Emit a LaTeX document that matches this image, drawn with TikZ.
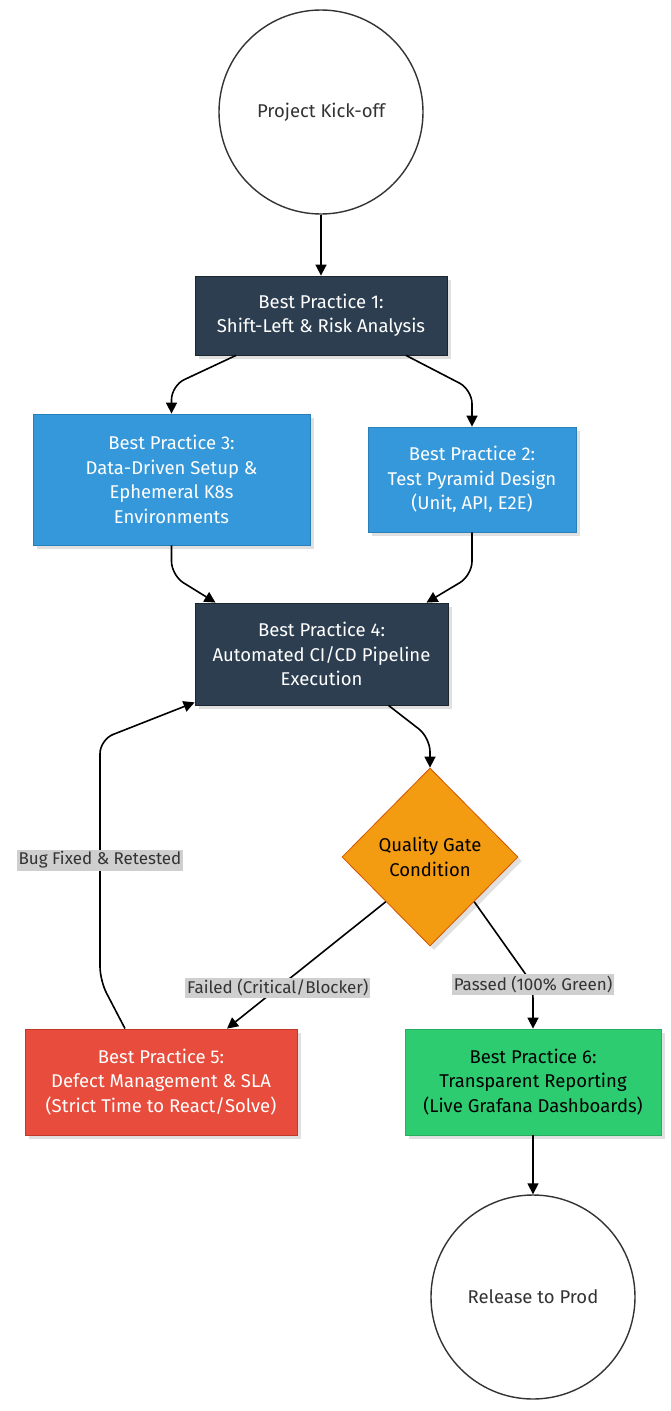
\documentclass[tikz,border=0pt]{standalone}
\usepackage{fontspec}
\setmainfont{Fira Sans}
\usepackage{tikz}
\usetikzlibrary{shapes,shapes.geometric,arrows.meta,positioning,calc,shadows}

\definecolor{bpdark}{HTML}{2C3E50}
\definecolor{bpdarkline}{HTML}{1B2631}
\definecolor{bpblue}{HTML}{3498DB}
\definecolor{bpblueline}{HTML}{2980B9}
\definecolor{bporange}{HTML}{F39C12}
\definecolor{bporangeline}{HTML}{D35400}
\definecolor{bpred}{HTML}{E74C3C}
\definecolor{bpredline}{HTML}{C0392B}
\definecolor{bpgreen}{HTML}{2ECC71}
\definecolor{bpgreenline}{HTML}{27AE60}
\definecolor{txtdark}{HTML}{333333}
\definecolor{lblgray}{HTML}{CFCFCF}

\begin{document}
\begin{tikzpicture}[
        x=1pt, y=-1pt,
        every node/.style={font=\fontsize{18.5}{24.5}\selectfont, align=center},
        softshadow/.style={drop shadow={shadow xshift=4pt, shadow yshift=-4pt, opacity=0.12, fill=black}},
        terminal/.style={circle, draw=txtdark, line width=1.4pt, fill=white, text=txtdark, minimum size=204pt, inner sep=0pt},
        blockdark/.style={rectangle, draw=bpdarkline, thick, fill=bpdark, text=white, softshadow},
        blockblue/.style={rectangle, draw=bpblueline, thick, fill=bpblue, text=white, softshadow},
        blockred/.style={rectangle, draw=bpredline, thick, fill=bpred, text=white, softshadow},
        blockgreen/.style={rectangle, draw=bpgreenline, thick, fill=bpgreen, text=black, softshadow},
        gatebox/.style={diamond, draw=bporangeline, thick, fill=bporange, text=black, inner sep=0pt, minimum width=176pt, minimum height=178pt, softshadow},
        arrow/.style={-{Triangle[length=11pt, width=11pt]}, line width=1.6pt, draw=black, rounded corners=14pt},
        edgelabel/.style={fill=lblgray, text=txtdark, inner sep=2pt, sharp corners, font=\fontsize{17}{20}\selectfont}
        ]

        \useasboundingbox (0,0) rectangle (670,1411);

        % Start and end points
        \node[terminal] (kickoff) at (321, 112) {Project Kick-off};
        \node[terminal] (release) at (533, 1297) {Release to Prod};

        % Planning stage
        \node[blockdark, minimum width=252pt, minimum height=79pt] (bp1) at (321, 315.5) {Best Practice 1:\\Shift-Left \& Risk Analysis};
        \node[blockblue, minimum width=277pt, minimum height=131pt] (bp3) at (171.5, 479.5) {Best Practice 3:\\Data-Driven Setup \&\\Ephemeral K8s\\Environments};
        \node[blockblue, minimum width=208pt, minimum height=105pt] (bp2) at (472, 479.5) {Best Practice 2:\\Test Pyramid Design\\(Unit, API, E2E)};

        % Execution and gate
        \node[blockdark, minimum width=253pt, minimum height=102pt] (bp4) at (321.5, 654) {Best Practice 4:\\Automated CI/CD Pipeline\\Execution};
        \node[gatebox] (gate) at (430, 857) {Quality Gate\\Condition};

        % Outcomes
        \node[blockred, minimum width=272pt, minimum height=106pt] (bp5) at (161, 1082) {Best Practice 5:\\Defect Management \& SLA\\(Strict Time to React/Solve)};
        \node[blockgreen, minimum width=256pt, minimum height=106pt] (bp6) at (533, 1082) {Best Practice 6:\\Transparent Reporting\\(Live Grafana Dashboards)};

        % Connections
        \draw[arrow] (kickoff) -- (bp1);
        \draw[arrow] ([xshift=-85pt]bp1.south) -- ([yshift=28pt]bp3.north) -- (bp3.north);
        \draw[arrow] ([xshift=85pt]bp1.south) -- ([yshift=37pt]bp2.north) -- (bp2.north);
        \draw[arrow] (bp3.south) -- ([yshift=-30pt]bp3.south) -- ([xshift=-106pt]bp4.north);
        \draw[arrow] (bp2.south) -- ([yshift=-43pt]bp2.south) -- ([xshift=105pt]bp4.north);
        \draw[arrow] ([xshift=67pt]bp4.south) -- ([yshift=30pt]gate.north) -- (gate.north);

        \draw[arrow] (gate.south west) -- node[edgelabel, pos=0.68] {Failed (Critical/Blocker)} ([xshift=66pt]bp5.north);
        \draw[arrow] (gate.south east) -- ([yshift=44pt]bp6.north) node[edgelabel] {Passed (100\% Green)} -- (bp6.north);

        % Feedback loop back into the pipeline
        \draw[arrow] ([xshift=-36pt]bp5.north) -- ++(-25, -48) -- node[edgelabel, pos=0.5] {Bug Fixed \& Retested} ++(0, -241) -- ([yshift=3pt]bp4.south west);

        \draw[arrow] (bp6) -- (release);

    \end{tikzpicture}
\end{document}
